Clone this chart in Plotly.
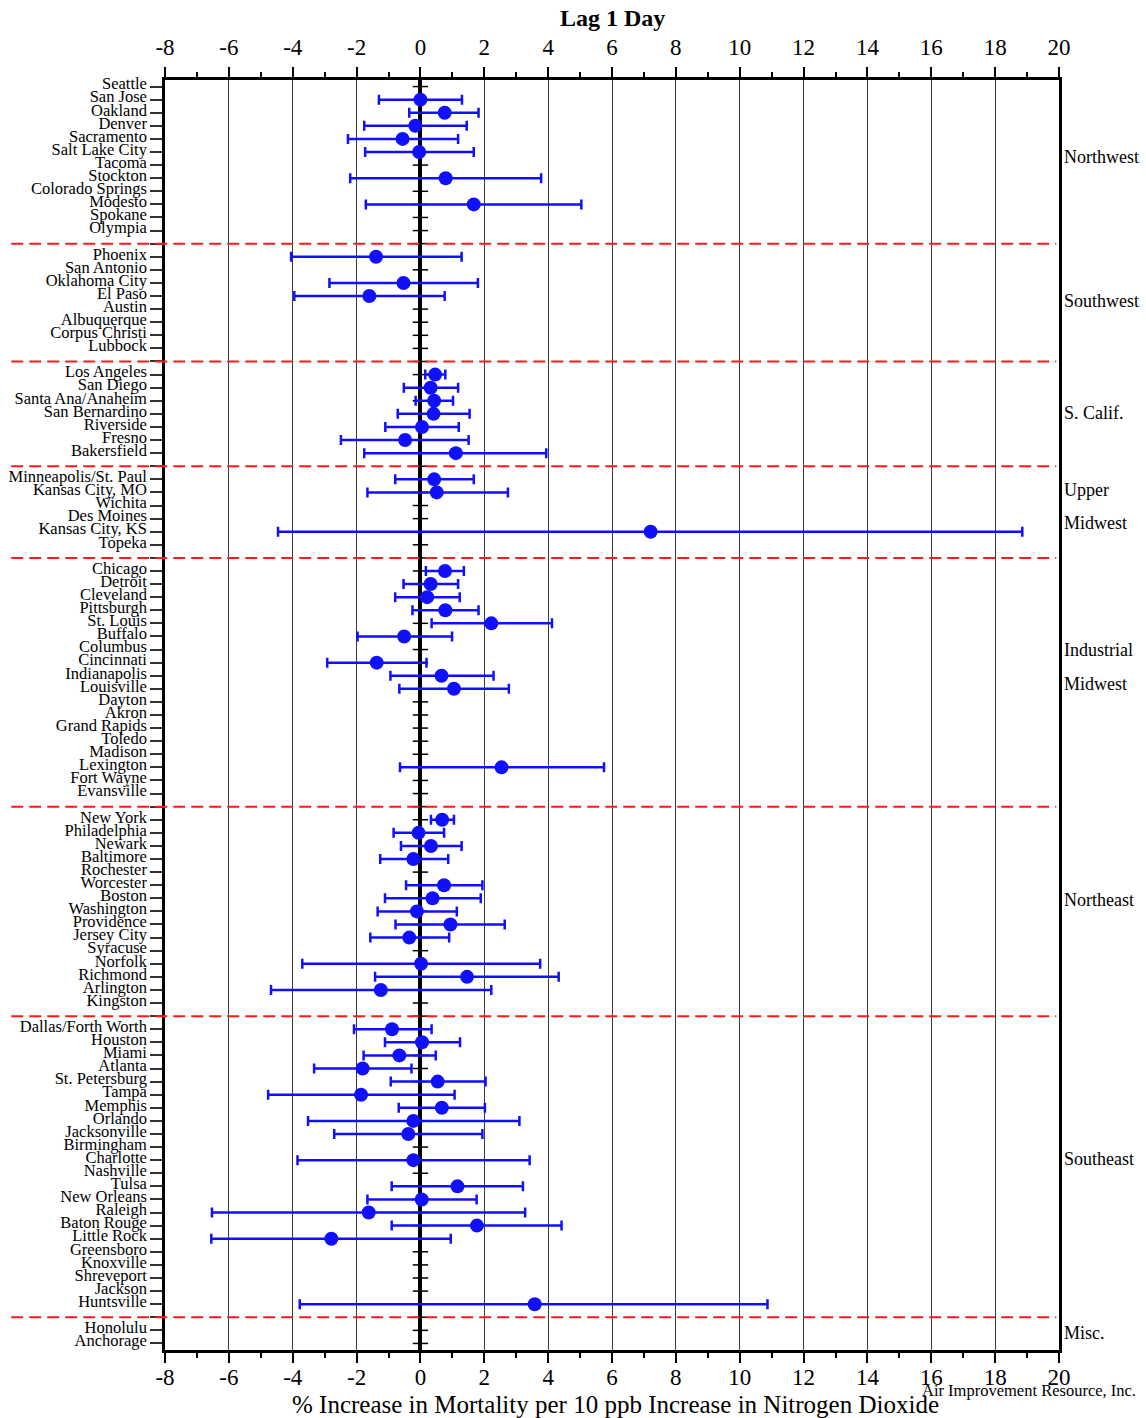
import numpy as np
import plotly.graph_objects as go

# Regions, in drawing order, and how many cities each holds
regions = ["Northwest", "Southwest", "S. Calif.", "Upper Midwest",
           "Industrial Midwest", "Northeast", "Southeast", "Misc."]
region_sizes = [12, 8, 7, 6, 18, 15, 22, 2]
region_label_lines = [["Northwest"], ["Southwest"], ["S. Calif."], ["Upper", "Midwest"],
                      ["Industrial", "Midwest"], ["Northeast"], ["Southeast"], ["Misc."]]

cities = [
    # Northwest
    "Seattle", "San Jose", "Oakland", "Denver", "Sacramento", "Salt Lake City", "Tacoma",
    "Stockton", "Colorado Springs", "Modesto", "Spokane", "Olympia",
    # Southwest
    "Phoenix", "San Antonio", "Oklahoma City", "El Paso", "Austin", "Albuquerque",
    "Corpus Christi", "Lubbock",
    # S. Calif.
    "Los Angeles", "San Diego", "Santa Ana/Anaheim", "San Bernardino", "Riverside", "Fresno",
    "Bakersfield",
    # Upper Midwest
    "Minneapolis/St. Paul", "Kansas City, MO", "Wichita", "Des Moines", "Kansas City, KS", "Topeka",
    # Industrial Midwest
    "Chicago", "Detroit", "Cleveland", "Pittsburgh", "St. Louis", "Buffalo", "Columbus",
    "Cincinnati", "Indianapolis", "Louisville", "Dayton", "Akron", "Grand Rapids", "Toledo",
    "Madison", "Lexington", "Fort Wayne", "Evansville",
    # Northeast
    "New York", "Philadelphia", "Newark", "Baltimore", "Rochester", "Worcester", "Boston",
    "Washington", "Providence", "Jersey City", "Syracuse", "Norfolk", "Richmond", "Arlington",
    "Kingston",
    # Southeast
    "Dallas/Forth Worth", "Houston", "Miami", "Atlanta", "St. Petersburg", "Tampa", "Memphis",
    "Orlando", "Jacksonville", "Birmingham", "Charlotte", "Nashville", "Tulsa", "New Orleans",
    "Raleigh", "Baton Rouge", "Little Rock", "Greensboro", "Knoxville", "Shreveport", "Jackson",
    "Huntsville",
    # Misc.
    "Honolulu", "Anchorage",
]

# Central estimate and 95% interval (% per 10 ppb NO2); None = no estimate
estimate = [
    None, 0.00, 0.76, -0.16, -0.56, -0.04, None, 0.79, None, 1.67, None, None,
    -1.39, None, -0.53, -1.60, None, None, None, None,
    0.46, 0.32, 0.43, 0.41, 0.05, -0.48, 1.11,
    0.43, 0.51, None, None, 7.21, None,
    0.77, 0.32, 0.21, 0.78, 2.22, -0.51, None, -1.37, 0.66, 1.05, None, None, None, None,
    None, 2.54, None, None,
    0.68, -0.06, 0.33, -0.22, None, 0.74, 0.38, -0.11, 0.94, -0.35, None, 0.02, 1.46, -1.24,
    None,
    -0.89, 0.05, -0.66, -1.81, 0.54, -1.86, 0.67, -0.22, -0.38, None, -0.22, None, 1.16, 0.04,
    -1.62, 1.77, -2.79, None, None, None, None, 3.58,
    None, None,
]
lower = [
    None, -1.30, -0.35, -1.76, -2.27, -1.73, None, -2.20, None, -1.71, None, None,
    -4.05, None, -2.85, -3.95, None, None, None, None,
    0.15, -0.52, -0.15, -0.71, -1.10, -2.49, -1.76,
    -0.79, -1.66, None, None, -4.46, None,
    0.17, -0.53, -0.79, -0.25, 0.35, -1.97, None, -2.92, -0.94, -0.66, None, None, None, None,
    None, -0.64, None, None,
    0.33, -0.84, -0.61, -1.26, None, -0.45, -1.11, -1.34, -0.78, -1.57, None, -3.70, -1.42,
    -4.68, None,
    -2.08, -1.11, -1.78, -3.33, -0.93, -4.77, -0.68, -3.52, -2.70, None, -3.85, None, -0.90,
    -1.66, -6.53, -0.90, -6.55, None, None, None, None, -3.78,
    None, None,
]
upper = [
    None, 1.30, 1.82, 1.45, 1.18, 1.67, None, 3.78, None, 5.04, None, None,
    1.29, None, 1.80, 0.76, None, None, None, None,
    0.78, 1.18, 1.02, 1.54, 1.20, 1.51, 3.94,
    1.67, 2.74, None, None, 18.85, None,
    1.36, 1.18, 1.23, 1.82, 4.12, 0.99, None, 0.19, 2.29, 2.77, None, None, None, None,
    None, 5.75, None, None,
    1.05, 0.74, 1.29, 0.87, None, 1.94, 1.89, 1.14, 2.64, 0.90, None, 3.75, 4.33, 2.22,
    None,
    0.35, 1.24, 0.48, -0.28, 2.04, 1.07, 2.02, 3.10, 1.94, None, 3.42, None, 3.21, 1.76,
    3.28, 4.42, 0.95, None, None, None, None, 10.87,
    None, None,
]

x_ticks = list(range(-8, 21, 2))

# Row layout: one row per city, one empty row between regions
city_rows = []
separator_rows = []
row = 0
for r, n in enumerate(region_sizes):
    city_rows.extend(range(row, row + n))
    row += n
    if r < len(region_sizes) - 1:
        separator_rows.append(row)
        row += 1
n_rows = row

tick_vals = list(range(n_rows))
tick_text = [""] * n_rows
for c, rr in zip(cities, city_rows):
    tick_text[rr] = c

# Keep only cities that have an estimate
sel = [i for i, e in enumerate(estimate) if e is not None]
est = np.array([estimate[i] for i in sel])
lo = np.array([lower[i] for i in sel])
hi = np.array([upper[i] for i in sel])
yy = [city_rows[i] for i in sel]

SERIF = "Liberation Serif"
BLUE = "#1010ff"

fig = go.Figure()

# Small row ticks along the zero line
fig.add_trace(go.Scatter(
    x=[0] * n_rows, y=tick_vals, mode="markers",
    marker=dict(symbol="line-ew", size=11, line=dict(color="black", width=1.5)),
    hoverinfo="skip", showlegend=False,
))

# Estimates with confidence intervals
fig.add_trace(go.Scatter(
    x=est, y=yy, mode="markers",
    marker=dict(color=BLUE, size=14),
    error_x=dict(type="data", symmetric=False, array=hi - est, arrayminus=est - lo,
                 color=BLUE, thickness=2.5, width=5),
    text=[cities[i] for i in sel], showlegend=False,
))

# Invisible trace so the top axis is drawn
fig.add_trace(go.Scatter(x=[0], y=[0], xaxis="x2", mode="markers",
                         marker=dict(opacity=0), hoverinfo="skip", showlegend=False))

# Region separators (extend into the label column)
for s in separator_rows:
    fig.add_shape(type="line", xref="paper", yref="y", x0=-0.172, x1=0.997, y0=s, y1=s,
                  line=dict(color="#ff1a1a", width=2, dash="12px,6px"), layer="above")

# Region names on the right
label_rows = [[5.4], [16.4], [24.9], [30.8, 33.3], [43.0, 45.6], [62.1], [81.9], [95.2]]
for lines, rws in zip(region_label_lines, label_rows):
    for txt, ry in zip(lines, rws):
        fig.add_annotation(text=txt, xref="paper", yref="y", x=1.0035, y=ry,
                           xanchor="left", yanchor="middle", showarrow=False,
                           font=dict(family=SERIF, size=18, color="black"))

fig.add_annotation(text="<b>Lag 1 Day</b>", xref="paper", yref="paper", x=0.5, y=1.0488,
                   xanchor="center", yanchor="middle", showarrow=False,
                   font=dict(family=SERIF, size=24, color="black"))
fig.add_annotation(text="% Increase in Mortality per 10 ppb Increase in Nitrogen Dioxide",
                   xref="paper", yref="paper", x=0.5035, y=-0.0433,
                   xanchor="center", yanchor="middle", showarrow=False,
                   font=dict(family=SERIF, size=25, color="black"))
fig.add_annotation(text="Air Improvement Resource, Inc.", xref="paper", yref="paper",
                   x=1.0884, y=-0.0315, xanchor="right", yanchor="middle", showarrow=False,
                   font=dict(family=SERIF, size=16.5, color="black"))

xaxis_common = dict(
    range=[-8, 20], tickmode="array", tickvals=x_ticks, ticktext=[str(v) for v in x_ticks],
    ticks="outside", ticklen=10, tickwidth=1.5, tickcolor="black",
    minor=dict(dtick=1, tick0=-8, ticks="outside", ticklen=5, tickwidth=1.5, tickcolor="black",
               showgrid=False),
    tickfont=dict(family=SERIF, size=23, color="black"),
    showline=True, linecolor="black", linewidth=2.5, automargin=False,
)

fig.update_layout(
    width=1146, height=1418,
    margin=dict(l=165, r=87, t=80, b=68),
    paper_bgcolor="white", plot_bgcolor="white",
    xaxis=dict(**xaxis_common, showgrid=True, gridcolor="#3a3a3a", gridwidth=1.2,
               zeroline=True, zerolinecolor="black", zerolinewidth=3.5, mirror=False,
               ticklabelstandoff=-5),
    xaxis2=dict(**xaxis_common, overlaying="x", side="top", matches="x", showgrid=False,
                zeroline=False, ticklabelstandoff=3),
    yaxis=dict(range=[n_rows - 0.5, -0.5], tickmode="array", tickvals=tick_vals,
               ticktext=tick_text, ticks="outside", ticklen=12, tickwidth=1.5,
               tickcolor="#333", tickfont=dict(family=SERIF, size=16.5, color="black"),
               ticklabelshift=3, automargin=False,
               showline=True, linecolor="black", linewidth=2.5, mirror=True,
               showgrid=False, zeroline=False),
)

fig.write_html("out.html")
